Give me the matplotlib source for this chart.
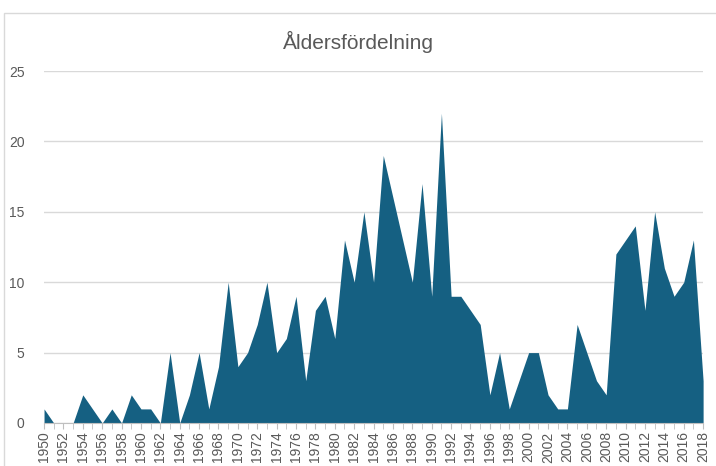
import matplotlib.pyplot as plt
from matplotlib.patches import Rectangle

years = list(range(1950, 2019))
counts = [1, 0, 0, 0, 2, 1, 0, 1, 0, 2,
          1, 1, 0, 5, 0, 2, 5, 1, 4, 10,
          4, 5, 7, 10, 5, 6, 9, 3, 8, 9,
          6, 13, 10, 15, 10, 19, 16, 13, 10, 17,
          9, 22, 9, 9, 8, 7, 2, 5, 1, 3,
          5, 5, 2, 1, 1, 7, 5, 3, 2, 12,
          13, 14, 8, 15, 11, 9, 10, 13, 3]
yticks = [0, 5, 10, 15, 20, 25]

plt.rcParams['font.family'] = ['Liberation Sans Narrow', 'Liberation Sans', 'DejaVu Sans']

fig = plt.figure(figsize=(7.16, 4.66), dpi=100)
fig.patches.append(Rectangle((0.006, -0.01), 1.0, 0.982, transform=fig.transFigure,
                             fill=False, edgecolor='#d9d9d9', linewidth=1))

ax = fig.add_axes([0.0615, 0.0923, 0.9205, 0.7553])
ax.fill_between(years, counts, 0, color='#156082', linewidth=0)
ax.set_xlim(1950, 2018)
ax.set_ylim(0, 25)
ax.set_yticks(yticks)
ax.set_xticks(years[::2])
ax.set_xticks(years, minor=True)
ax.set_xticklabels([str(y) for y in years[::2]], rotation=90)

ax.grid(axis='y', color='#d9d9d9', linewidth=1)
ax.set_axisbelow(True)
for s in ['top', 'right', 'left']:
    ax.spines[s].set_visible(False)
ax.spines['bottom'].set_color('#bfbfbf')
ax.tick_params(axis='y', length=0, labelsize=10, labelcolor='#595959', pad=14)
ax.tick_params(axis='x', which='both', length=4, color='#bfbfbf', labelsize=10,
               labelcolor='#595959', pad=2)

fig.text(0.5, 0.91, 'Åldersfördelning', ha='center', va='center',
         fontsize=15, color='#595959')

fig.savefig('out.png', dpi=100)
